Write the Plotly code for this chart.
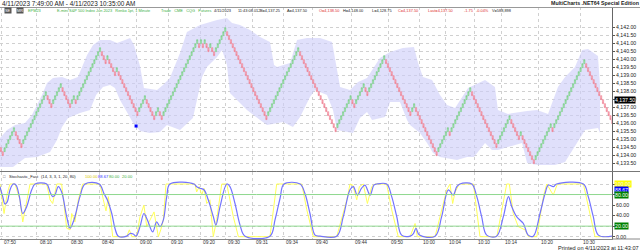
import plotly.graph_objects as go

# ---------------- data ----------------
brick_size = 0.25
first_open = 4134.75
# signed renko runs (number of bricks up (+) / down (-))
runs = [-3, 6, -4, 13, -3, 5, -5, 2, -1, 13, -3, 1, -4, 1, -11, 4, -5, 2, -2, 19,
        -1, 1, -1, 1, -2, 1, -2, 6, -22, 17, -20, 8, -2, 5, -2, 9, -14, 2, -12, 6,
        -1, 11, -14, 7, -5, 1, -7, 9, -1, 17, -15]

band_up_bar = [0.5, 4.3, 8.6, 13.9, 17.6, 23.0, 25.7, 28.9, 33.7, 38.0, 42.2, 47.1, 50.3, 54.0, 59.4, 63.1,
               67.4, 70.1, 72.2, 75.4, 77.5, 84.5, 87.7, 91.4, 96.8, 100.5, 107.5, 116.6, 121.9, 124.6,
               128.9, 134.2, 139.6, 144.9, 147.1, 148.7, 155.6, 159.4, 164.7, 171.7, 178.1, 180.7, 182.4,
               187.7, 192.0, 196.8, 203.7, 209.1, 216.0, 221.9, 224.1, 226.7, 231.6, 235.8, 239.6, 243.9,
               250.8, 259.9, 265.2, 266.8, 272.2, 282.4, 287.7, 293.6, 298.9, 302.7, 308.0, 311.8, 315.0,
               320.3, 321.4]
band_up = [4135.10, 4135.61, 4135.92, 4136.04, 4136.54, 4137.79, 4138.54, 4138.86, 4138.92, 4138.73, 4138.92,
           4140.29, 4140.92, 4141.23, 4141.23, 4141.04, 4141.23, 4141.36, 4140.92, 4139.61, 4138.23, 4138.11,
           4138.42, 4138.86, 4140.42, 4141.73, 4142.17, 4142.48, 4142.61, 4142.29, 4142.17, 4141.86, 4141.42,
           4141.11, 4139.67, 4139.54, 4139.79, 4141.23, 4141.36, 4141.36, 4141.11, 4139.36, 4138.29, 4138.11,
           4138.61, 4138.86, 4140.11, 4140.48, 4140.73, 4140.79, 4139.79, 4138.92, 4138.73, 4137.79, 4137.17,
           4136.98, 4138.23, 4138.73, 4138.29, 4136.86, 4136.61, 4136.79, 4136.86, 4136.61, 4138.29, 4138.92,
           4139.54, 4140.61, 4140.67, 4140.23, 4138.36]
band_lo_bar = [0.5, 7.5, 13.9, 20.3, 27.3, 31.0, 33.7, 36.9, 43.3, 48.7, 51.9, 55.6, 59.4, 62.0, 64.7, 68.4,
               71.7, 75.4, 80.7, 86.1, 89.8, 96.8, 103.7, 108.6, 111.2, 116.6, 119.3, 121.9, 123.5, 126.2,
               132.6, 139.6, 143.3, 148.7, 151.9, 157.2, 161.0, 166.3, 169.0, 175.4, 178.6, 180.7, 189.3,
               193.0, 196.8, 199.5, 206.4, 209.1, 214.4, 218.2, 219.8, 225.1, 228.9, 232.1, 235.8, 244.9,
               250.3, 254.0, 259.9, 263.6, 266.8, 279.7, 282.4, 288.2, 297.3, 302.7, 307.0, 313.4, 320.3, 321.4]
band_lo = [4133.29, 4133.29, 4133.86, 4133.92, 4134.23, 4134.98, 4135.79, 4136.36, 4136.67, 4136.86, 4137.79,
           4138.29, 4138.42, 4138.23, 4137.48, 4136.73, 4136.04, 4135.54, 4135.42, 4135.48, 4135.92, 4135.61,
           4136.36, 4138.92, 4139.54, 4140.17, 4140.61, 4139.67, 4137.92, 4137.61, 4136.86, 4136.23, 4135.92,
           4136.04, 4136.11, 4135.79, 4136.42, 4137.67, 4138.11, 4137.79, 4136.86, 4135.61, 4135.42, 4136.36,
           4136.73, 4136.23, 4136.42, 4137.36, 4137.36, 4136.23, 4135.92, 4135.42, 4134.79, 4134.17, 4133.92,
           4133.73, 4133.92, 4133.92, 4134.79, 4134.36, 4134.36, 4134.79, 4133.54, 4133.42, 4133.42, 4133.61,
           4134.36, 4135.61, 4135.73, 4135.42]

dot_bar = [73.3]
dot_price = [4135.85]

stoch_d_bar = [0.5, 2.0, 3.2, 4.4, 5.9, 7.6, 9.1, 10.9, 12.7, 14.8, 17.5, 19.3, 25.5, 27.3, 28.7, 29.9, 31.7,
               33.5, 36.2, 38.0, 40.1, 43.3, 46.0, 53.6, 56.1, 57.9, 60.3, 62.0, 63.8, 68.3, 70.1, 71.8, 73.3,
               75.4, 77.5, 79.3, 82.2, 84.3, 86.1, 87.9, 89.7, 91.4, 104.3, 105.7, 107.5, 109.6, 111.9, 114.6,
               116.0, 118.2, 121.8, 123.5, 126.2, 128.9, 131.6, 144.9, 147.6, 150.3, 152.4, 161.0, 163.6,
               166.3, 169.0, 171.7, 180.6, 184.1, 187.7, 189.5, 191.6, 193.9, 195.7, 198.4, 200.5, 202.0,
               207.3, 210.0, 212.7, 215.3, 219.8, 221.6, 223.0, 224.8, 233.2, 236.7, 240.3, 242.9, 244.8,
               246.5, 252.8, 255.5, 258.1, 260.8, 266.1, 269.7, 272.4, 274.2, 276.8, 280.4, 283.0, 285.7,
               289.3, 292.0, 293.8, 296.4, 298.2, 312.5, 315.1, 317.8, 320.5, 328.0]
stoch_d = [95, 76, 62, 66, 89, 100, 98, 76, 44, 57, 89, 100, 100, 85, 76, 79, 95, 85, 38, 16, 32, 76, 100,
           100, 82, 70, 44, 16, 1, 1, 6, 5, 1, 19, 44, 32, 9, 28, 19, 32, 76, 100, 100, 95, 92, 89, 70, 38,
           22, 57, 100, 95, 63, 22, 1, 1, 32, 73, 100, 100, 82, 44, 3, 1, 1, 38, 89, 95, 79, 92, 98, 79, 98,
           100, 100, 76, 38, 3, 1, 6, 16, 3, 1, 38, 89, 79, 95, 100, 100, 76, 38, 3, 1, 38, 76, 57, 38, 25,
           3, 1, 44, 82, 98, 95, 100, 100, 76, 38, 3, 1]

stoch_k_bar = [0.5, 2.7, 4.4, 5.9, 8.6, 11.2, 12.7, 14.8, 16.6, 25.5, 27.3, 28.7, 30.9, 33.5, 36.2, 38.0,
               38.9, 40.6, 42.4, 44.8, 54.0, 55.8, 57.2, 58.5, 60.8, 68.3, 69.7, 71.0, 73.6, 75.4, 77.5, 79.0,
               80.7, 82.9, 85.2, 86.5, 87.9, 89.3, 104.8, 105.7, 107.1, 108.4, 109.6, 111.1, 112.8, 114.6,
               116.4, 119.1, 121.8, 125.3, 128.0, 144.9, 148.5, 161.9, 164.6, 168.1, 180.6, 186.0, 187.7,
               189.2, 191.3, 192.7, 194.8, 197.0, 199.3, 201.1, 207.3, 210.0, 213.5, 219.8, 222.5, 223.7,
               233.2, 239.4, 241.2, 242.6, 243.9, 246.2, 253.7, 257.2, 266.2, 271.5, 272.9, 275.0, 277.7,
               281.3, 283.1, 287.6, 291.1, 292.9, 296.4, 298.6, 312.5, 314.3, 318.7, 328.0]
stoch_k = [100, 44, 82, 100, 100, 70, 28, 70, 100, 100, 70, 63, 100, 100, 16, 13, 44, 28, 70, 100, 100, 70,
           49, 76, 0, 0, 13, 0, 0, 38, 60, 19, 32, 47, 0, 13, 32, 100, 100, 85, 95, 79, 92, 63, 70, 0, 32,
           100, 100, 38, 0, 0, 100, 100, 51, 0, 0, 70, 100, 98, 70, 95, 100, 63, 95, 100, 100, 51, 0, 0, 25,
           0, 0, 89, 100, 63, 85, 100, 100, 0, 0, 100, 100, 44, 19, 13, 0, 0, 76, 100, 79, 100, 100, 70, 0, 0]

tick_bar = [1.1, 20.2, 37.1, 53.6, 73.6, 90.5, 107.5, 120.9, 135.8, 151.9, 167.9, 188.6, 208.2, 225.1,
            239.0, 254.5, 268.8, 288.4, 310.7]
tick_text = ["07:50", "08:10", "08:30", "08:40", "09:00", "09:10", "09:20", "09:30", "09:31", "09:34",
             "09:40", "09:44", "09:50", "10:00", "10:04", "10:10", "10:14", "10:20", "10:30"]

price_ticks = [4133.0 + 0.5 * i for i in range(19)]
stoch_levels = [0, 20, 40, 60, 80, 100]
stoch_level_text = ["0.00", "", "40.00", "60.00", "", ""]

# ---------------- renko bricks ----------------
b_x, b_open, b_close = [], [], []
prev_open = prev_close = None
prev_dir = 0
i = 0
for r in runs:
    d = 1 if r > 0 else -1
    for k in range(abs(r)):
        if prev_dir == 0 and k == 0:
            o = first_open
        elif k == 0 and d != prev_dir:
            o = prev_open
        else:
            o = prev_close
        c = o + d * brick_size
        b_x.append(i)
        b_open.append(o)
        b_close.append(c)
        prev_open, prev_close = o, c
        i += 1
    prev_dir = d
b_high = [max(o, c) for o, c in zip(b_open, b_close)]
b_low = [min(o, c) for o, c in zip(b_open, b_close)]

FONT = "Liberation Sans, Arial, sans-serif"
XD = [0, 612 / 640]
YR = [4133.04, 4143.29]

fig = go.Figure()

# band on the base price axis (drawn underneath)
fig.add_trace(go.Scatter(
    x=band_up_bar + band_lo_bar[::-1], y=band_up + band_lo[::-1],
    fill="toself", fillcolor="rgba(205,205,248,0.62)", line=dict(width=0),
    mode="lines", hoverinfo="skip", xaxis="x", yaxis="y", showlegend=False))

# bricks on an overlaying axis so they sit on top of the band
fig.add_trace(go.Candlestick(
    x=b_x, open=b_open, close=b_close, high=b_high, low=b_low,
    increasing=dict(fillcolor="#a9e4b0", line=dict(color="#6fca7e", width=0.5)),
    decreasing=dict(fillcolor="#f8b0bb", line=dict(color="#ec7488", width=0.5)),
    whiskerwidth=0, hoverinfo="skip", xaxis="x", yaxis="y3", showlegend=False))

fig.add_trace(go.Scatter(x=dot_bar, y=dot_price, mode="markers",
                         marker=dict(symbol="square", size=3, color="#0000ff"),
                         xaxis="x", yaxis="y3", showlegend=False))

fig.add_trace(go.Scatter(x=stoch_k_bar, y=stoch_k, mode="lines",
                         line=dict(color="#ffff5a", width=1), xaxis="x2", yaxis="y2", showlegend=False))
fig.add_trace(go.Scatter(x=stoch_d_bar, y=stoch_d, mode="lines", line_shape="spline",
                         line=dict(color="#7373ff", width=1.2), xaxis="x2", yaxis="y2", showlegend=False))

xr = [0.535, 327.8]
grid = dict(showgrid=True, gridcolor="#d0d0d0", griddash="dot", gridwidth=1, zeroline=False)
fig.update_layout(
    width=640, height=252, margin=dict(l=0, r=0, t=0, b=0),
    paper_bgcolor="white", plot_bgcolor="white", boxgap=0.06,
    font=dict(family=FONT, size=6, color="#222"),
    xaxis=dict(domain=XD, range=xr, anchor="y", tickvals=tick_bar, showticklabels=False,
               ticks="", showline=False, rangeslider=dict(visible=False), **grid),
    yaxis=dict(domain=[1 - 171 / 252, 1 - 7 / 252], range=YR, side="right",
               anchor="x", tickvals=price_ticks, tickformat=",.2f", ticks="outside", ticklen=2,
               tickcolor="#555", tickfont=dict(size=5.2, color="#222"), showline=True,
               linecolor="#666", linewidth=1, **grid),
    yaxis3=dict(overlaying="y", range=YR, anchor="x", side="right", visible=False,
                showgrid=False, zeroline=False),
    xaxis2=dict(domain=XD, range=xr, anchor="y2", matches="x", tickvals=tick_bar, showticklabels=False,
                ticks="", showline=True, linecolor="#888", linewidth=1, **grid),
    yaxis2=dict(domain=[1 - 239 / 252, 1 - 172 / 252], range=[-4.4, 122.8], side="right",
                anchor="x2", tickvals=stoch_levels, ticktext=stoch_level_text, ticks="outside",
                ticklen=2, tickcolor="#555", tickfont=dict(size=5.2, color="#222"), showline=True,
                linecolor="#666", linewidth=1, **grid),
)

shapes = []
for lv in (20, 80):
    shapes.append(dict(type="line", xref="x2", yref="y2", x0=xr[0], x1=xr[1], y0=lv, y1=lv,
                       line=dict(color="#8fd88f", width=1)))
shapes.append(dict(type="line", xref="paper", yref="paper", x0=0, x1=1, y0=1 - 171.5 / 252,
                   y1=1 - 171.5 / 252, line=dict(color="#777", width=1)))
shapes.append(dict(type="line", xref="paper", yref="paper", x0=0, x1=1, y0=1 - 7.5 / 252,
                   y1=1 - 7.5 / 252, line=dict(color="#999", width=1)))
shapes.append(dict(type="line", xref="paper", yref="paper", x0=612 / 640, x1=1, y0=1 - 239 / 252,
                   y1=1 - 239 / 252, line=dict(color="#888", width=1)))
fig.update_layout(shapes=shapes)

ann = []
def txt(x, y, s, color="#222", size=5.5, anchor="left", bold=False, bg=None):
    ann.append(dict(x=x / 640, y=1 - y / 252, xref="paper", yref="paper", text=(f"<b>{s}</b>" if bold else s),
                    showarrow=False, xanchor=anchor, yanchor="middle",
                    font=dict(size=size, color=color, family=FONT), bgcolor=bg, borderpad=0))

txt(1, 3.5, "4/11/2023 7:49:00 AM - 4/11/2023 10:35:00 AM", size=6.4)
txt(640, 3.5, "MultiCharts .NET64 Special Edition", size=5.3, anchor="right", bold=True)
txt(640, 248, "Printed on 4/11/2023 at 11:43:07", size=5.6, anchor="right")

G = "#3cb043"; R = "#e03030"; TS = 3.9
row = 11
txt(4, row, "SE", color="white", size=TS, bg="#555")
txt(16, row, "MR", color="white", size=TS, bg="#555")
txt(27, row, "EPM23", color=G, size=TS)
txt(56, row, "E-mini S&P 500 Index Jun 2023   Renko 1pt, 1 Minute", color=G, size=TS)
txt(160, row, "Trade   CME   CQG   Futures", color=G, size=TS)
txt(213, row, "4/11/2023", size=TS)
txt(237, row, "11:43:08.012", size=TS)
txt(259, row, "B=4,137.25", size=TS)
txt(286, row, "A=4,137.50", size=TS)
txt(318, row, "O=4,138.50", color=R, size=TS)
txt(342, row, "H=4,148.00", size=TS)
txt(371, row, "L=4,128.75", size=TS)
txt(397, row, "C=4,137.50", color=R, size=TS)
txt(427, row, "Last=4,137.50", color=R, size=TS)
txt(463, row, "-1.75", color=R, size=TS)
txt(475, row, "-0.04%", color=R, size=TS)
txt(491, row, "V=588,898", size=TS)

srow = 176.5; SS = 4.1
txt(1.5, srow, "□", size=SS, color="#555")
txt(8, srow, "Stochastic_Fast", size=SS)
txt(40, srow, "(14, 3, 3, 1, 20, 80)", size=SS)
txt(84, srow, "100.00", color="#d8c800", size=SS)
txt(97, srow, "88.67", color="#3030ff", size=SS)
txt(108, srow, "80.00", color=G, size=SS)
txt(121, srow, "20.00", color=G, size=SS)

for tb, tt in zip(tick_bar, tick_text):
    ann.append(dict(x=tb, y=1 - 242.5 / 252, xref="x2", yref="paper", text=tt, showarrow=False,
                    xanchor="left", yanchor="middle", xshift=1,
                    font=dict(size=4.8, color="#333", family=FONT)))

def box(val, yref, s, bg, fg):
    ann.append(dict(x=614 / 640, y=val, xref="paper", yref=yref, text=s, showarrow=False,
                    xanchor="left", yanchor="middle", font=dict(size=5.2, color=fg, family=FONT),
                    bgcolor=bg, borderpad=0))

box(4137.5, "y", "4,137.50", "#000", "#fff")
box(100, "y2", "100.00", "#ffff00", "#f0f0f0")
box(88.67, "y2", "88.67", "#0000ff", "#fff")
box(80, "y2", "80.00", "#008000", "#fff")
box(20, "y2", "20.00", "#008000", "#fff")

fig.update_layout(annotations=ann)
fig.write_html("out.html")
